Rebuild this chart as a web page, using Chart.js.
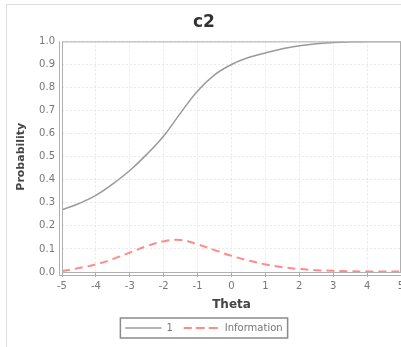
<!DOCTYPE html>
<html>
<head>
<meta charset="utf-8">
<style>
  html, body { margin: 0; padding: 0; background: #fff; }
  #wrap { position: relative; width: 401px; height: 347px; }
</style>
<script src="https://cdn.jsdelivr.net/npm/chart.js@4/dist/chart.umd.min.js"></script>
</head>
<body>
<div id="wrap"><canvas id="chart" width="401" height="347"></canvas></div>
<script>
// valeurs
var theta = [-5, -4.5, -4, -3.5, -3, -2.5, -2, -1.5, -1, -0.5, 0, 0.5, 1, 1.5, 2, 2.5, 3, 3.5, 4, 4.5, 5];
var prob = [0.27, 0.297, 0.332, 0.382, 0.44, 0.51, 0.59, 0.69, 0.785, 0.855, 0.90, 0.93, 0.95, 0.968, 0.981, 0.99, 0.995, 0.998, 1.0, 1.0, 1.0];
var info = [0.004, 0.017, 0.033, 0.056, 0.084, 0.112, 0.133, 0.139, 0.12, 0.095, 0.07, 0.05, 0.033, 0.021, 0.013, 0.008, 0.005, 0.003, 0.002, 0.002, 0.002];
var seriesNames = ['1', 'Information'];

function pts(ys) {
    return theta.map(function (t, i) { return { x: t, y: ys[i] }; });
}

// cadre, axes doublés et boîte de légende façon JFreeChart
var decor = {
    id: 'decor',
    beforeDraw: function (chart) {
        var ctx = chart.ctx;
        ctx.save();
        ctx.strokeStyle = '#dedede';
        ctx.lineWidth = 1;
        ctx.beginPath();
        ctx.moveTo(6.5, 347);
        ctx.lineTo(6.5, 4.5);
        ctx.lineTo(401, 4.5);
        ctx.stroke();
        ctx.restore();
    },
    afterDatasetsDraw: function (chart) {
        var ctx = chart.ctx, a = chart.chartArea;
        ctx.save();
        ctx.strokeStyle = '#b0b0b0';
        ctx.lineWidth = 1;
        ctx.strokeRect(a.left + 0.5, a.top + 0.5, a.right - a.left - 1, a.bottom - a.top);
        ctx.beginPath();
        ctx.moveTo(a.left - 2.5, a.top);
        ctx.lineTo(a.left - 2.5, a.bottom + 4);
        ctx.moveTo(a.left - 2.5, a.bottom + 3.5);
        ctx.lineTo(a.right, a.bottom + 3.5);
        ctx.stroke();

        var boxes = chart.legend.legendHitBoxes;
        if (boxes && boxes.length) {
            var l = Math.min.apply(null, boxes.map(function (b) { return b.left; }));
            var r = Math.max.apply(null, boxes.map(function (b) { return b.left + b.width; }));
            var t = Math.min.apply(null, boxes.map(function (b) { return b.top; }));
            var bt = Math.max.apply(null, boxes.map(function (b) { return b.top + b.height; }));
            ctx.strokeStyle = '#8a8a8a';
            ctx.lineWidth = 1.5;
            ctx.strokeRect(l - 5, t - 5, r - l + 10, bt - t + 10);
        }
        ctx.restore();
    }
};

var ctx = document.getElementById('chart').getContext('2d');
var myChart = new Chart(ctx, {
    type: 'scatter',
    data: {
        datasets: [{
            label: seriesNames[0],
            data: pts(prob),
            showLine: true,
            borderColor: '#9a9a9a',
            backgroundColor: '#9a9a9a',
            borderWidth: 1.5,
            pointRadius: 0,
            tension: 0.4
        }, {
            label: seriesNames[1],
            data: pts(info),
            showLine: true,
            borderColor: '#ff8a8a',
            backgroundColor: '#ff8a8a',
            borderWidth: 2,
            borderDash: [8, 5],
            pointRadius: 0,
            tension: 0.4
        }]
    },
    plugins: [decor],
    options: {
        responsive: false,
        animation: false,
        layout: { padding: { left: 7, top: 4, right: 0, bottom: 4 } },
        plugins: {
            title: {
                display: true,
                text: 'c2',
                color: '#333',
                font: { family: 'DejaVu Sans', size: 17, weight: 'bold' },
                padding: { top: 8, bottom: 9 }
            },
            legend: {
                position: 'bottom',
                labels: {
                    boxWidth: 36,
                    boxHeight: 0,
                    padding: 11,
                    color: '#777',
                    font: { family: 'DejaVu Sans', size: 10 }
                }
            },
            tooltip: { enabled: false }
        },
        scales: {
            x: {
                type: 'linear',
                min: -5,
                max: 5,
                afterFit: function (s) { s.height = 40; s.paddingRight = 0; },
                ticks: {
                    stepSize: 1,
                    padding: 3,
                    color: '#777',
                    font: { family: 'DejaVu Sans', size: 10 }
                },
                grid: { color: '#e8e8e8', tickLength: 5, tickColor: '#aaa' },
                border: { display: false, dash: [2, 2] },
                title: {
                    display: true,
                    text: 'Theta',
                    color: '#444',
                    font: { family: 'DejaVu Sans', size: 12, weight: 'bold' },
                    padding: { top: 2, bottom: 0 }
                }
            },
            y: {
                min: 0,
                max: 1,
                afterFit: function (s) { s.width = 55; },
                ticks: {
                    stepSize: 0.1,
                    padding: 7,
                    color: '#777',
                    font: { family: 'DejaVu Sans', size: 10 },
                    callback: function (v) { return v.toFixed(1); }
                },
                grid: { color: '#e8e8e8', drawTicks: false },
                border: { display: false, dash: [2, 2] },
                title: {
                    display: true,
                    text: 'Probability',
                    color: '#444',
                    font: { family: 'DejaVu Sans', size: 11, weight: 'bold' },
                    padding: { top: 8, bottom: 0 }
                }
            }
        }
    }
});
</script>
</body>
</html>
